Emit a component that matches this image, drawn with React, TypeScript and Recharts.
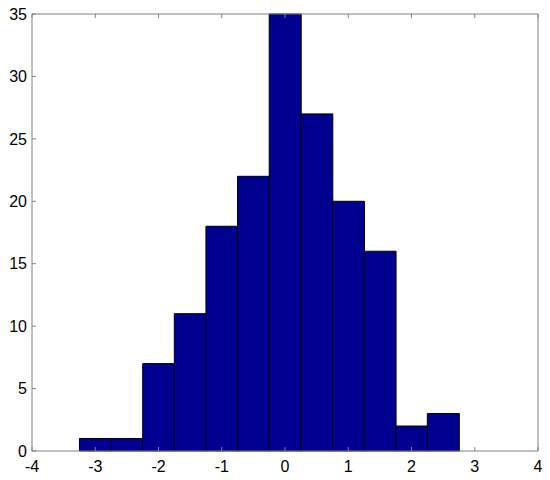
import { Bar, ComposedChart, XAxis, YAxis } from "recharts";

const binCenters = [-3, -2.5, -2, -1.5, -1, -0.5, 0, 0.5, 1, 1.5, 2, 2.5];
const counts = [1, 1, 7, 11, 18, 22, 35, 27, 20, 16, 2, 3];
const xTicks = [-4, -3, -2, -1, 0, 1, 2, 3, 4];
const yTicks = [0, 5, 10, 15, 20, 25, 30, 35];

const data = binCenters.map((x, i) => ({ x, count: counts[i] }));

const axisColor = "#808080";
const tickStyle = { fontSize: 16, fill: "#000", fontFamily: "'Liberation Sans', Arial, sans-serif" };
// box axes: tick marks only, no labels
const noLabel = () => <g />;

export default function App() {
  return (
    <div style={{ position: "absolute", left: 0, top: 0, width: 550, height: 480, background: "#fff" }}>
      <ComposedChart
        width={550}
        height={480}
        data={data}
        margin={{ top: 13, right: 11, bottom: 0, left: 0 }}
        barCategoryGap={0}
        barGap={0}
      >
        <XAxis
          dataKey="x"
          type="number"
          domain={[-4, 4]}
          ticks={xTicks}
          allowDataOverflow
          height={29}
          stroke={axisColor}
          tickSize={-4}
          tickMargin={14}
          tick={tickStyle}
        />
        <XAxis
          xAxisId="top"
          orientation="top"
          dataKey="x"
          type="number"
          domain={[-4, 4]}
          ticks={xTicks}
          allowDataOverflow
          height={1}
          stroke={axisColor}
          tickSize={-4}
          tick={noLabel}
        />
        <YAxis
          type="number"
          domain={[0, 35]}
          ticks={yTicks}
          width={32}
          stroke={axisColor}
          tickSize={-4}
          tickMargin={9}
          tick={tickStyle}
        />
        <YAxis
          yAxisId="right"
          orientation="right"
          type="number"
          domain={[0, 35]}
          ticks={yTicks}
          width={1}
          stroke={axisColor}
          tickSize={-4}
          tick={noLabel}
        />
        <Bar dataKey="count" fill="#00008f" stroke="#000" strokeWidth={1} isAnimationActive={false} />
      </ComposedChart>
    </div>
  );
}
